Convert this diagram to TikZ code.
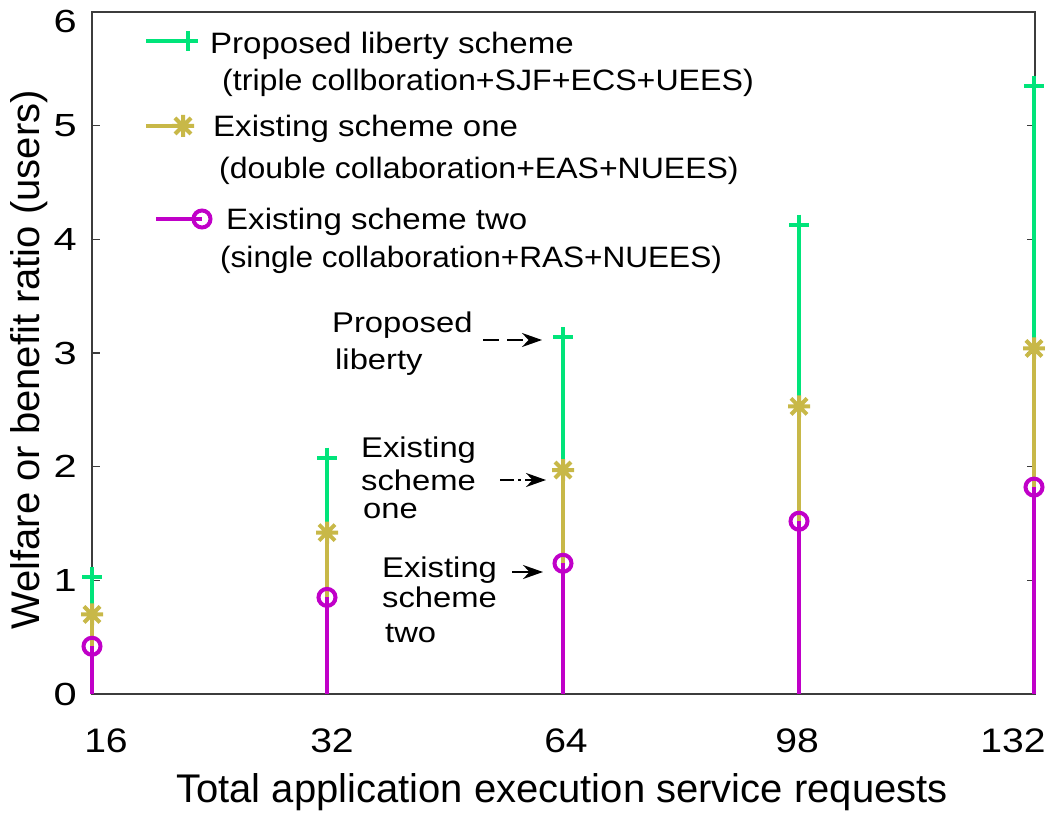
\documentclass[tikz,border=0pt]{standalone}
\usepackage{fontspec}
\setmainfont{Liberation Sans}
\usepackage{graphicx}
\usetikzlibrary{arrows.meta}

\definecolor{cG}{RGB}{0,228,122}
\definecolor{cY}{RGB}{200,184,72}
\definecolor{cM}{RGB}{192,0,200}
\definecolor{axisgray}{RGB}{60,60,60}

% value -> vertical page position
\newcommand{\valy}[1]{694-113.67*(#1)}
% horizontally widened text
\newcommand{\widetxt}[2]{\scalebox{#1}[1]{#2}}

\tikzset{
  frame/.style={draw=axisgray, line width=1.5pt},
  tickmark/.style={draw=axisgray, line width=1.3pt},
  stemG/.style={draw=cG, line width=4pt},
  stemY/.style={draw=cY, line width=4pt},
  stemM/.style={draw=cM, line width=4pt},
  plusmark/.pic={\draw[cG, line width=4pt] (-10,0) -- (10,0) (0,-10) -- (0,10);},
  starmark/.pic={\draw[cY, line width=4pt] (-11,0) -- (11,0) (0,-11) -- (0,11)
                  (-8,-8) -- (8,8) (-8,8) -- (8,-8);},
  circmark/.pic={\draw[cM, line width=4pt] (0,0) circle[radius=8.5pt];},
  ytick/.style={anchor=east, inner sep=0pt, font=\fontsize{32}{34}\selectfont},
  xtick/.style={anchor=base, inner sep=0pt, font=\fontsize{34}{36}\selectfont},
  axlabel/.style={inner sep=0pt, font=\fontsize{40}{44}\selectfont},
  legtext/.style={anchor=base west, inner sep=0pt, font=\fontsize{29.5}{32}\selectfont},
  anntext/.style={anchor=base west, inner sep=0pt, font=\fontsize{28.5}{32}\selectfont},
  annarrow/.style={draw=black, line width=2pt, -{Stealth[length=20pt,width=14pt]}},
}

\begin{document}
\begin{tikzpicture}[x=1pt, y=-1pt]
\useasboundingbox (0,0) rectangle (1045,813);

% axes box and ticks
\draw[frame] (92,12) rectangle (1035,694);
\foreach \v in {1,...,5} {
  \draw[tickmark] (92,{\valy{\v}}) -- (100,{\valy{\v}});
  \draw[tickmark] (1035,{\valy{\v}}) -- (1027,{\valy{\v}});
}

% y tick labels
\node[ytick] (y0) at (77,694) {\widetxt{1.3}{0}};
\foreach \v in {1,...,5} {
  \node[ytick] (y\v) at (77,{\valy{\v}}) {\widetxt{1.3}{\v}};
}
\node[ytick] (y6) at (77,21) {\widetxt{1.3}{6}};

% x tick labels
\node[xtick] (x16)  at (106,752)  {\widetxt{1.15}{16}};
\node[xtick] (x32)  at (332,752)  {\widetxt{1.15}{32}};
\node[xtick] (x64)  at (566,752)  {\widetxt{1.15}{64}};
\node[xtick] (x98)  at (797,752)  {\widetxt{1.15}{98}};
\node[xtick] (x132) at (1013,752) {\widetxt{1.15}{132}};

% axis titles
\node[axlabel, anchor=base] (xlabel) at (562,802) {Total application execution service requests};
\node[axlabel, rotate=90] (ylabel) at (29,360) {Welfare or benefit ratio (users)};

% stems
\foreach \px/\gv/\yv/\mv in {92/1.03/0.70/0.42, 327/2.08/1.42/0.85,
                             563/3.14/1.97/1.15, 799/4.13/2.53/1.52,
                             1034/5.35/3.04/1.82} {
  \draw[stemG] (\px,694) -- (\px,{\valy{\gv}});
  \draw[stemY] (\px,694) -- (\px,{\valy{\yv}});
  \draw[stemM] (\px,694) -- (\px,{\valy{\mv}});
  \pic at (\px,{\valy{\gv}}) {plusmark};
  \pic at (\px,{\valy{\yv}}) {starmark};
  \pic at (\px,{\valy{\mv}}) {circmark};
}

% legend
\draw[stemG] (146,41) -- (197,41);
\pic at (188,41) {plusmark};
\draw[stemY] (146,126) -- (183,126);
\pic at (183,126) {starmark};
\draw[stemM] (156,219) -- (202,219);
\pic at (202,219) {circmark};

\node[legtext] (leg1a) at (210,54)  {\widetxt{1.12}{Proposed liberty scheme}};
\node[legtext] (leg1b) at (222,91)  {\widetxt{1.09}{(triple collboration+SJF+ECS+UEES)}};
\node[legtext] (leg2a) at (213,137) {\widetxt{1.12}{Existing scheme one}};
\node[legtext] (leg2b) at (219,179) {\widetxt{1.085}{(double collaboration+EAS+NUEES)}};
\node[legtext] (leg3a) at (226,230) {\widetxt{1.12}{Existing scheme two}};
\node[legtext] (leg3b) at (220,268) {\widetxt{1.07}{(single collaboration+RAS+NUEES)}};

% annotations
\node[anntext] (annPa) at (332,333) {\widetxt{1.15}{Proposed}};
\node[anntext] (annPb) at (335,370) {\widetxt{1.15}{liberty}};
\node[anntext] (annOa) at (361,457) {\widetxt{1.15}{Existing}};
\node[anntext] (annOb) at (361,490) {\widetxt{1.15}{scheme}};
\node[anntext] (annOc) at (363,518) {\widetxt{1.15}{one}};
\node[anntext] (annTa) at (382,577) {\widetxt{1.15}{Existing}};
\node[anntext] (annTb) at (382,607) {\widetxt{1.15}{scheme}};
\node[anntext] (annTc) at (385,642) {\widetxt{1.15}{two}};

\coordinate (arrP0) at (483,340);
\coordinate (arrP1) at (542,340);
\coordinate (arrO0) at (500,480);
\coordinate (arrO1) at (546,480);
\coordinate (arrT0) at (512,572);
\coordinate (arrT1) at (543,572);
\draw[annarrow, dash pattern=on 16pt off 8pt] (arrP0) -- (arrP1);
\draw[annarrow, dash pattern=on 14pt off 4pt on 3pt off 4pt] (arrO0) -- (arrO1);
\draw[annarrow] (arrT0) -- (arrT1);
\end{tikzpicture}
\end{document}
